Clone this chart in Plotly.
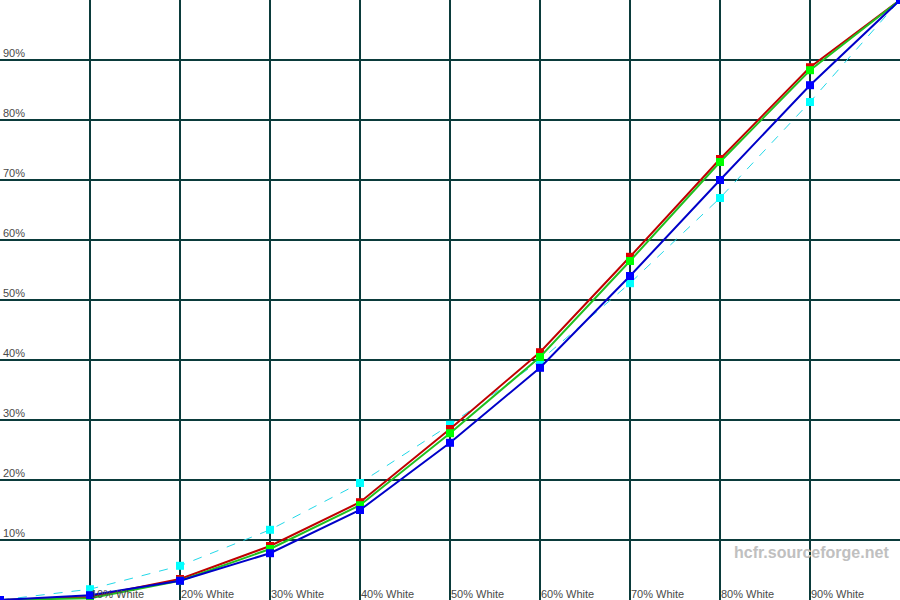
import plotly.graph_objects as go

levels = [0, 10, 20, 30, 40, 50, 60, 70, 80, 90, 100]
red = [0, 0.5, 3.5, 9.0, 16.3, 28.5, 41.3, 57.2, 73.5, 88.8, 100]
green = [0, 0.3, 3.2, 8.5, 15.8, 27.8, 40.5, 56.5, 73.0, 88.3, 100]
blue = [0, 0.8, 3.2, 7.8, 15.0, 26.2, 38.7, 54.0, 70.0, 85.8, 100]
reference = [0, 1.8, 5.7, 11.7, 19.5, 29.2, 39.9, 52.8, 67.0, 83.0, 100]

x_tick_vals = [10, 20, 30, 40, 50, 60, 70, 80, 90]
x_tick_text = ["10% White", "20% White", "30% White", "40% White", "50% White",
               "60% White", "70% White", "80% White", "90% White"]
y_tick_vals = [10, 20, 30, 40, 50, 60, 70, 80, 90]
y_tick_text = ["10%", "20%", "30%", "40%", "50%", "60%", "70%", "80%", "90%"]

grid_color = "#0b3b3b"
label_font = dict(family="Liberation Sans, Arial, sans-serif", size=11, color="#4a4a4a")

fig = go.Figure()
fig.add_trace(go.Scatter(x=levels, y=reference, mode="lines+markers",
                         line=dict(color="#22d8e8", width=1, dash="dash"),
                         marker=dict(symbol="square", size=8, color="#00ffff")))
fig.add_trace(go.Scatter(x=levels, y=red, mode="lines+markers",
                         line=dict(color="#c00000", width=2),
                         marker=dict(symbol="square", size=8, color="#e00000")))
fig.add_trace(go.Scatter(x=levels, y=green, mode="lines+markers",
                         line=dict(color="#20c020", width=2),
                         marker=dict(symbol="square", size=8, color="#00ff00")))
fig.add_trace(go.Scatter(x=levels, y=blue, mode="lines+markers",
                         line=dict(color="#0000c8", width=2),
                         marker=dict(symbol="square", size=8, color="#0000ff")))

for v, t in zip(x_tick_vals, x_tick_text):
    fig.add_annotation(x=v, y=0, xref="x", yref="y", text=t, showarrow=False,
                       xanchor="left", yanchor="bottom", xshift=0, yshift=-1,
                       borderpad=0, font=label_font)
for v, t in zip(y_tick_vals, y_tick_text):
    fig.add_annotation(x=0, y=v, xref="x", yref="y", text=t, showarrow=False,
                       xanchor="left", yanchor="bottom", xshift=2, yshift=0,
                       borderpad=0, font=label_font)

fig.add_annotation(x=0.99, y=0.08, xref="paper", yref="paper", text="<b>hcfr.sourceforge.net</b>",
                   showarrow=False, xanchor="right", yanchor="middle",
                   font=dict(family="Liberation Sans, Arial, sans-serif", size=16, color="#c0c0c0"))

fig.update_xaxes(range=[0, 100], dtick=10, tick0=0, showgrid=True, gridcolor=grid_color,
                 gridwidth=1.5, showticklabels=False, zeroline=False, showline=False,
                 fixedrange=True)
fig.update_yaxes(range=[0, 100], dtick=10, tick0=0, showgrid=True, gridcolor=grid_color,
                 gridwidth=1.5, showticklabels=False, zeroline=False, showline=False,
                 fixedrange=True)
fig.update_layout(width=900, height=600, margin=dict(l=0, r=0, t=0, b=0),
                  paper_bgcolor="white", plot_bgcolor="white", showlegend=False)

fig.write_html("out.html", config={"displayModeBar": False},
               post_script="document.body.style.margin='0';document.body.style.overflow='hidden';")
